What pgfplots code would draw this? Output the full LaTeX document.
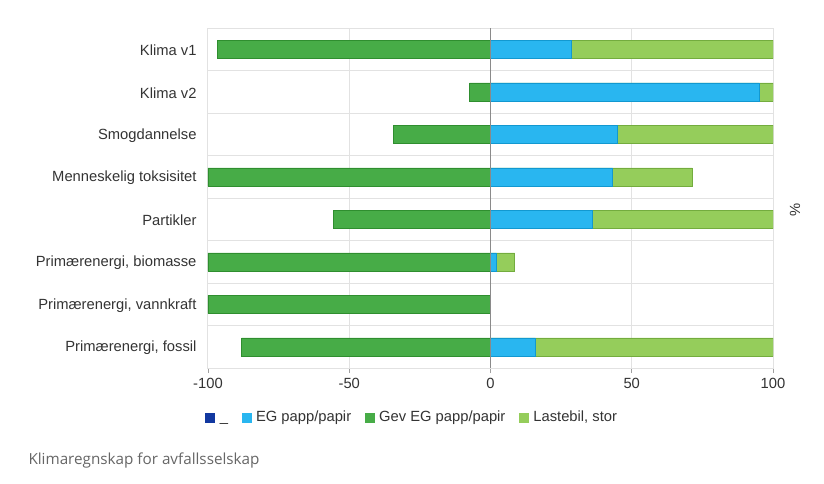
\documentclass[border=0pt]{standalone}
\usepackage{pgfplots}
\pgfplotsset{compat=1.18}
\usepackage{fontspec}
\setmainfont{Liberation Sans}
\newfontfamily\capfont{Open Sans}

\definecolor{dkblue}{HTML}{1238A0}
\definecolor{ltblue}{HTML}{29B6F0}
\definecolor{ltblueD}{HTML}{1298D0}
\definecolor{green}{HTML}{47AC47}
\definecolor{greenD}{HTML}{2F8E2F}
\definecolor{lgreen}{HTML}{95CD5B}
\definecolor{lgreenD}{HTML}{73AC3E}
\definecolor{gridc}{HTML}{E2E2E2}
\definecolor{tickc}{HTML}{A0A0A0}
\definecolor{zeroc}{HTML}{8A8A8A}
\definecolor{txt}{HTML}{333333}

\begin{document}
\begin{tikzpicture}
\begin{axis}[
  scale only axis, width=565bp, height=340bp,
  xmin=-100, xmax=100, ymin=-0.5, ymax=7.5, y dir=reverse,
  xtick={-100,-50,0,50,100},
  xticklabels={-100,-50,0,50,100},
  xtick pos=lower,
  ytick={0,...,7},
  yticklabels={Klima v1, Klima v2, Smogdannelse, Menneskelig toksisitet, Partikler,
    {Primærenergi, biomasse}, {Primærenergi, vannkraft}, {Primærenergi, fossil}},
  minor ytick={-0.5,0.5,...,7.5},
  yminorgrids=true, xmajorgrids=true,
  grid style={draw=gridc, line width=1bp},
  minor grid style={draw=gridc, line width=1bp},
  axis line style={draw=gridc, line width=1bp},
  tick align=outside, major tick length=5bp,
  xtick style={draw=tickc, line width=0.8bp},
  ytick style={draw=none}, minor y tick style={draw=none},
  ticklabel style={font=\fontsize{14.8}{17}\selectfont, text=txt},
  xticklabel style={yshift=-2bp},
  yticklabel style={xshift=-3bp, yshift=-1bp},
  legend style={at={(0.361,-0.147)}, anchor=center, draw=none, legend columns=-1,
    font=\fontsize{14.8}{17}\selectfont, text=txt,
    nodes={inner sep=1.5bp, text height=10.5bp, text depth=3bp},
    /tikz/every odd column/.append style={column sep=3bp},
    /tikz/every even column/.append style={column sep=12bp}},
  legend image code/.code={\path[#1,draw=none] (0bp,-5bp) rectangle (10bp,5bp);},
]
\addlegendimage{fill=dkblue}
\addlegendimage{fill=ltblue}
\addlegendimage{fill=green}
\addlegendimage{fill=lgreen}
% Lastebil, stor (drawn as cumulative end of the positive stack)
\addplot[xbar, bar width=18bp, bar shift=0pt, fill=lgreen, draw=lgreenD, forget plot]
  coordinates {(100,0) (100,1) (100,2) (71.5,3) (100,4) (8.5,5) (100,7)};
% EG papp/papir
\addplot[xbar, bar width=18bp, bar shift=0pt, fill=ltblue, draw=ltblueD, forget plot]
  coordinates {(28.7,0) (95.2,1) (45.0,2) (43.2,3) (36.1,4) (2.1,5) (15.9,7)};
% Gev EG papp/papir
\addplot[xbar, bar width=18bp, bar shift=0pt, fill=green, draw=greenD, forget plot]
  coordinates {(-96.6,0) (-7.4,1) (-34.3,2) (-100,3) (-55.6,4) (-100,5) (-100,6) (-88.1,7)};
\draw[zeroc, line width=1bp] (axis cs:0,-0.5) -- (axis cs:0,7.5);
\legend{{\char95}, EG papp/papir, Gev EG papp/papir, {Lastebil, stor}}
\end{axis}
\node[rotate=90, text=txt, font=\fontsize{14.8}{17}\selectfont] at (587bp,158bp) {\%};
\node[anchor=west, text=txt!75!white, font=\capfont\fontsize{15.3}{17}\selectfont] at (-183bp,-92bp) {Klimaregnskap for avfallsselskap};
\pgfresetboundingbox
\path[use as bounding box] (-208bp,-116bp) rectangle (616bp,368bp);
\end{tikzpicture}
\end{document}
